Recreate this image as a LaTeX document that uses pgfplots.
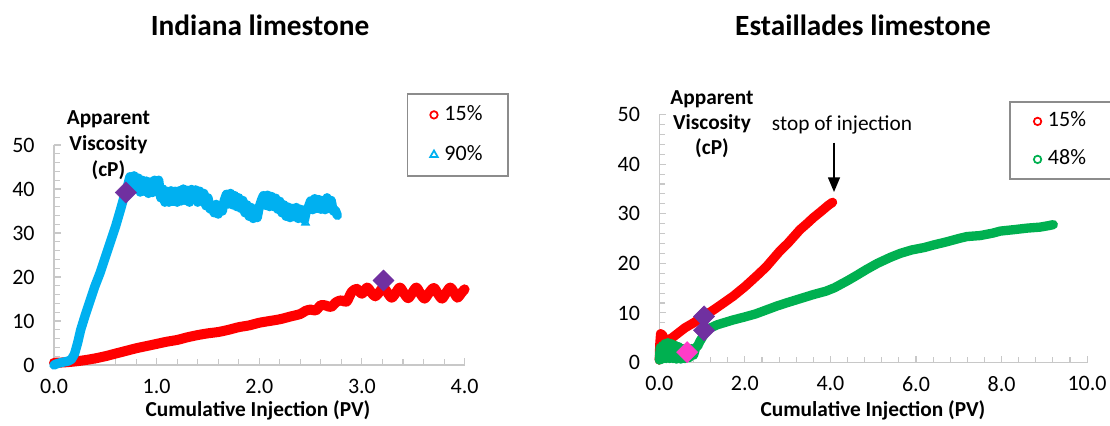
\documentclass[border=0pt]{standalone}
\usepackage{fontspec}
\setmainfont{Carlito}
\usepackage{pgfplots}
\pgfplotsset{compat=1.18}
\usetikzlibrary{arrows.meta}

\definecolor{cred}{HTML}{FF0000}
\definecolor{cblue}{HTML}{00B0F0}
\definecolor{cgreen}{HTML}{00B050}
\definecolor{cpurple}{HTML}{7030A0}
\definecolor{cpink}{HTML}{FF3CC8}
\definecolor{axgray}{HTML}{C8C8C8}
\definecolor{leggray}{HTML}{8C8C8C}

\pgfplotsset{
  myaxis/.style={
    scale only axis,
    axis lines=left,
    axis line style={-, draw=axgray, line width=0.9pt},
    tick style={draw=axgray, line width=0.8pt},
    tick align=inside,
    major tick length=5pt, minor tick length=4.5pt,
    ymin=0, ymax=50, ytick={0,10,20,30,40,50},
    minor y tick num=4, minor x tick num=4,
    tick label style={font=\fontsize{16.5}{19}\selectfont},
    /pgf/number format/assume math mode=true,
    xticklabel style={/pgf/number format/fixed, /pgf/number format/fixed zerofill, /pgf/number format/precision=1, yshift=-7pt},
    yticklabel style={xshift=-11pt},
    clip=false,
    legend cell align=left,
    legend style={draw=leggray, line width=1.2pt, anchor=north west,
      font=\fontsize{16.5}{19}\selectfont,
      nodes={inner sep=2pt, text height=11.5pt, text depth=3.5pt},
      /tikz/every odd column/.append style={column sep=3pt}},
    legend image code/.code={\draw[##1] plot[only marks] coordinates {(0pt,0pt)};},
  },
  band/.style={line width=7pt, line join=round, line cap=round, no marks, forget plot},
  dia/.style={only marks, mark=square*, mark size=5.6pt, forget plot, mark options={rotate=45, fill=#1, draw=#1, line width=0.4pt}},
}

\begin{document}
\begin{tikzpicture}
\useasboundingbox (0,0) rectangle (832.5pt,-318.75pt);

% ---------------- Indiana limestone ----------------
\begin{axis}[myaxis, at={(40.5pt,-273.75pt)}, anchor=south west,
  width=307.95pt, height=165pt, xmin=0, xmax=4, xtick={0,1,2,3,4},
  legend style={at={(0.859,1.236)}, inner xsep=17pt, inner ysep=6.25pt, row sep=11pt}]
\addplot[cred, band, line width=7.5pt, smooth, tension=0.5] coordinates {
(0,0.5) (0.1,0.6) (0.2,0.8) (0.3,1.1) (0.4,1.5) (0.5,2.0) (0.6,2.6) (0.7,3.2)
(0.8,3.8) (0.9,4.3) (1.0,4.8) (1.1,5.3) (1.2,5.7) (1.3,6.3) (1.4,6.8) (1.5,7.2)
(1.6,7.5) (1.7,8.0) (1.8,8.6) (1.9,9.0) (2.0,9.6) (2.1,10.0) (2.2,10.4) (2.3,11.0)
(2.4,11.6) (2.45,12.3) (2.5,12.6) (2.55,12.4) (2.6,13.6) (2.65,13.5) (2.7,13.2)
(2.75,14.3) (2.8,14.7) (2.85,14.4) (2.9,16.6) (2.95,17.3) (3.0,16.2) (3.05,17.6)
(3.09,16.5) (3.13,15.6) (3.17,16.6) (3.21,17.6) (3.25,16.4) (3.29,15.3) (3.33,16.4)
(3.37,17.6) (3.41,16.3) (3.45,15.2) (3.49,16.4) (3.53,17.6) (3.57,16.2) (3.61,15.1)
(3.65,16.3) (3.70,17.5) (3.74,16.2) (3.78,15.1) (3.82,16.4) (3.86,17.6) (3.90,16.4)
(3.93,15.3) (3.97,16.4) (4.0,17.2)
};
\addplot[cblue, band] coordinates {
(0,0) (0.03,0.3) (0.06,0.5) (0.1,0.7) (0.14,0.9) (0.17,1.3) (0.2,2.5) (0.23,5)
(0.26,8) (0.3,11) (0.35,14.5) (0.4,18) (0.45,21) (0.5,24.5) (0.55,28) (0.6,31.5)
(0.65,35.5) (0.68,38)
(0.70,39.0) (0.72,41.0) (0.74,42.8) (0.76,40.8) (0.78,43.0) (0.80,40.0) (0.82,42.5)
(0.84,39.3) (0.86,42.0) (0.88,39.5) (0.90,41.8) (0.92,39.0) (0.94,41.6) (0.96,39.2)
(0.98,42.0) (1.00,39.5) (1.02,42.0) (1.04,38.0) (1.06,40.0) (1.08,37.0) (1.10,39.5)
(1.12,37.0) (1.14,39.6) (1.16,37.2) (1.18,39.5) (1.20,37.0) (1.22,39.6) (1.24,37.3)
(1.26,40.0) (1.28,37.4) (1.30,39.7) (1.32,37.0) (1.34,39.9) (1.36,37.6) (1.38,39.8)
(1.40,37.0) (1.42,39.5) (1.44,37.2) (1.46,39.0) (1.48,36.2) (1.50,38.0) (1.52,35.5)
(1.54,36.0) (1.56,34.6) (1.58,36.5) (1.60,34.3) (1.62,36.0) (1.64,35.0) (1.66,37.5)
(1.68,38.8) (1.70,36.6) (1.72,39.0) (1.74,36.4) (1.76,38.5) (1.78,36.0) (1.80,38.0)
(1.82,35.6) (1.84,37.4) (1.86,34.6) (1.88,36.4) (1.90,33.8) (1.92,35.8) (1.94,33.3)
(1.96,35.4) (1.98,33.5) (2.00,36.0) (2.02,37.4) (2.04,38.5) (2.06,36.3) (2.08,38.6)
(2.10,36.0) (2.12,38.3) (2.14,36.0) (2.16,37.9) (2.18,35.4) (2.20,37.2) (2.22,34.6)
(2.24,36.4) (2.26,33.8) (2.28,35.9) (2.30,33.5) (2.32,35.6) (2.34,33.7) (2.36,35.8)
(2.38,33.3) (2.40,35.4) (2.42,33.5) (2.44,33.0) (2.46,35.2) (2.48,36.0) (2.50,37.3)
(2.52,35.3) (2.54,37.8) (2.56,35.6) (2.58,37.6) (2.60,35.4) (2.62,37.4) (2.64,35.3)
(2.66,38.0) (2.68,35.6) (2.70,37.4) (2.72,35.0) (2.74,35.2) (2.76,34.0)
};
\addplot[only marks, mark=triangle, cblue, mark size=3pt, line width=1.2pt, forget plot] coordinates {(2.45,32.3)};
\addplot[dia=cpurple] coordinates {(0.70,39.2) (3.21,19.2)};
\addlegendimage{mark=o, cred, mark size=2.8pt, line width=1.3pt}
\addlegendentry{15\%}
\addlegendimage{mark=triangle, cblue, mark size=3.3pt, line width=1.3pt}
\addlegendentry{90\%}
\end{axis}

% ---------------- Estaillades limestone ----------------
\begin{axis}[myaxis, at={(494.5pt,-271.9pt)}, anchor=south west,
  width=320.8pt, height=186pt, xmin=0, xmax=10, xtick={0,2,4,6,8,10},
  legend style={at={(0.8176,1.054)}, inner xsep=18pt, inner ysep=5.1pt, row sep=9.5pt}]
\addplot[cred, band, line width=7pt] coordinates {
(0,0.5) (0.01,3.5) (0.03,5.8) (0.07,5.6) (0.12,4.8) (0.2,4.5) (0.3,5.0) (0.45,6.0)
(0.6,7.0) (0.8,8.0) (1.05,9.4) (1.3,10.8) (1.5,12.0) (1.73,13.4) (2.0,15.3)
(2.28,17.5) (2.5,19.3) (2.82,22.5) (3.0,24.0) (3.29,26.8) (3.45,28.0) (3.6,29.2)
(3.8,30.6) (3.95,31.7) (4.05,32.3)
};
\addplot[cgreen, band] coordinates {
(0,0.5) (0.02,3.0) (0.04,0.6) (0.07,3.4) (0.1,0.8) (0.13,3.8) (0.16,0.8) (0.2,4.0)
(0.24,0.8) (0.28,3.8) (0.32,0.8) (0.36,3.5) (0.4,0.7) (0.45,3.2) (0.5,0.7) (0.55,2.8)
(0.6,0.8) (0.65,2.6) (0.7,1.0) (0.75,2.8) (0.8,1.5) (0.85,3.0) (0.9,3.4) (0.95,4.3)
(1.0,5.0) (1.05,5.8) (1.1,6.4) (1.2,7.0) (1.35,7.6) (1.5,8.0) (1.73,8.6) (2.0,9.2)
(2.25,9.8) (2.5,10.6) (2.75,11.4) (3.0,12.1) (3.3,12.9) (3.6,13.7) (3.9,14.4)
(4.1,15.1) (4.4,16.5) (4.6,17.5) (4.85,18.8) (5.1,20.0) (5.4,21.2) (5.63,22.0)
(5.9,22.7) (6.2,23.2) (6.41,23.7) (6.7,24.3) (7.0,25.0) (7.19,25.4) (7.5,25.6)
(7.8,26.1) (7.97,26.5) (8.3,26.8) (8.6,27.1) (8.9,27.3) (9.1,27.6) (9.21,27.8)
};
\addplot[dia=cpurple] coordinates {(1.045,9.3) (1.045,6.5)};
\addplot[dia=cpink] coordinates {(0.65,2.1)};
\addlegendimage{mark=o, cred, mark size=2.8pt, line width=1.3pt}
\addlegendentry{15\%}
\addlegendimage{mark=o, cgreen, mark size=2.8pt, line width=1.3pt}
\addlegendentry{48\%}
\end{axis}

% titles and labels
\node[font=\fontsize{22}{26}\selectfont\bfseries] at (195pt,-18.75pt) {Indiana limestone};
\node[font=\fontsize{22}{26}\selectfont\bfseries] at (647.25pt,-18.75pt) {Estaillades limestone};
\node[font=\fontsize{16}{19}\selectfont\bfseries, anchor=base] at (193.5pt,-312pt) {Cumulative Injection (PV)};
\node[font=\fontsize{16}{19}\selectfont\bfseries, anchor=base] at (654.75pt,-312pt) {Cumulative Injection (PV)};
\node[font=\fontsize{16}{19.5}\selectfont\bfseries, align=center] at (81.3pt,-109pt) {Apparent\\Viscosity\\(cP)};
\node[font=\fontsize{16}{18.5}\selectfont\bfseries, align=center] at (534pt,-93.2pt) {Apparent\\Viscosity\\(cP)};
\node[font=\fontsize{16}{19}\selectfont] at (631.5pt,-94pt) {stop of injection};
\draw[line width=1pt, -{Triangle[width=9pt,length=11pt]}] (625.5pt,-107pt) -- (625.5pt,-144pt);
\end{tikzpicture}
\end{document}
